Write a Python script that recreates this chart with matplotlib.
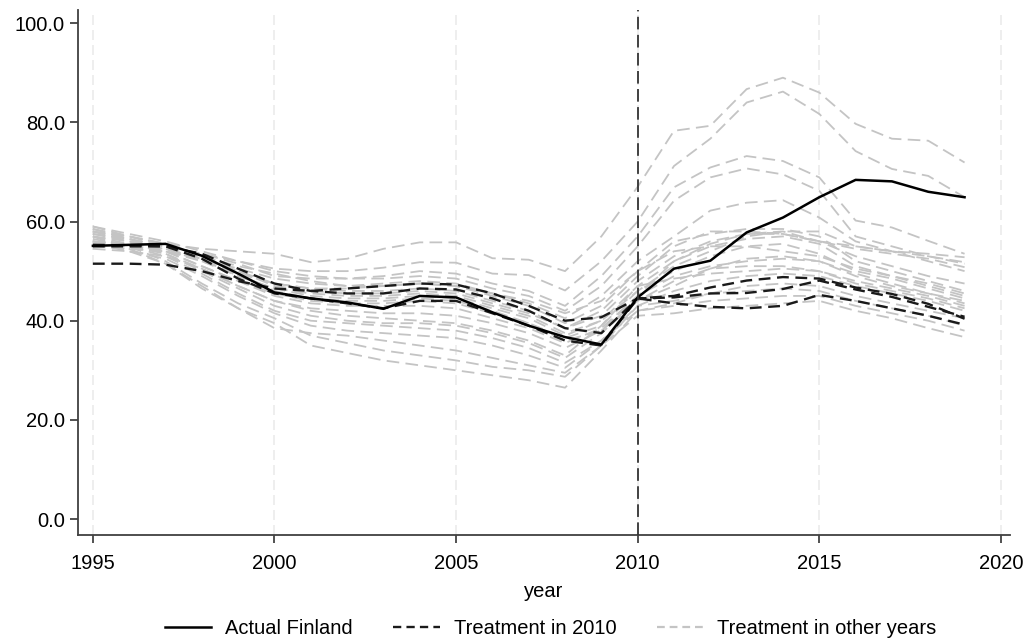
import numpy as np
import matplotlib
matplotlib.use("Agg")
import matplotlib.pyplot as plt
from matplotlib.lines import Line2D

plt.rcParams['font.family'] = ['Liberation Sans', 'DejaVu Sans']

years = list(range(1995, 2020))

# actual outcome for Finland
finland = [55.1, 55.3, 55.5, 53.1, 49.5, 45.7, 44.5, 43.7, 42.4, 45.0, 44.7, 41.7, 39.0, 36.7, 35.2,
           44.7, 50.5, 52.1, 57.8, 60.8, 64.9, 68.4, 68.1, 66.0, 64.9]

# synthetic controls, treatment in 2010
treat2010_a = [51.5, 51.5, 51.3, 50.0, 48.0, 46.5, 46.0, 46.5, 47.0, 47.5, 47.3, 45.5, 43.0, 40.0, 40.7,
               44.5, 45.0, 46.7, 48.1, 48.8, 48.5, 46.7, 45.4, 43.4, 40.4]
treat2010_b = [55.3, 55.2, 55.0, 53.5, 50.5, 47.5, 46.0, 45.5, 45.5, 46.5, 46.3, 44.5, 42.0, 38.5, 37.5,
               44.5, 44.7, 45.5, 45.6, 46.4, 48.1, 46.3, 44.8, 42.8, 40.8]
treat2010_c = [55.0, 55.0, 55.0, 52.5, 48.5, 45.5, 44.5, 43.5, 42.5, 44.0, 44.0, 41.5, 39.0, 36.0, 35.0,
               44.5, 43.5, 42.8, 42.5, 43.0, 45.2, 44.0, 42.5, 41.0, 39.2]

# synthetic controls, treatment in other years
other_01 = [58.0, 57.0, 55.5, 54.5, 54.0, 53.5, 51.8, 52.5, 54.5, 55.8, 55.8, 52.6, 52.3, 50.0, 57.0,
            67.0, 78.3, 79.3, 86.7, 89.0, 86.0, 79.7, 76.7, 76.3, 71.9]
other_02 = [57.5, 56.5, 55.0, 53.5, 52.0, 50.5, 50.0, 50.0, 50.7, 51.8, 51.7, 49.5, 49.2, 46.1, 52.0,
            60.0, 71.2, 76.7, 84.0, 86.2, 81.7, 74.2, 70.6, 69.2, 64.9]
other_03 = [56.0, 55.5, 55.0, 53.5, 51.5, 49.0, 48.5, 48.5, 49.0, 50.0, 49.5, 47.5, 46.0, 43.0, 49.0,
            57.0, 66.9, 70.9, 73.2, 72.2, 68.9, 60.2, 58.8, 56.1, 53.5]
other_04 = [59.0, 57.5, 56.0, 54.0, 52.0, 50.0, 49.0, 48.5, 48.5, 49.0, 48.5, 46.5, 45.0, 42.0, 47.0,
            55.0, 64.2, 68.9, 70.7, 69.5, 66.2, 57.0, 55.0, 53.0, 51.5]
other_05 = [58.5, 57.0, 55.0, 53.0, 51.0, 49.5, 48.0, 47.0, 47.5, 48.0, 47.5, 45.5, 43.5, 40.5, 45.0,
            52.0, 57.0, 62.2, 63.8, 64.3, 60.8, 56.0, 54.0, 52.0, 50.0]
other_06 = [57.0, 56.0, 54.5, 52.5, 50.5, 48.5, 47.5, 47.0, 47.0, 47.5, 47.0, 45.0, 43.0, 39.5, 43.0,
            50.0, 56.0, 57.5, 58.5, 58.5, 57.0, 52.0, 50.0, 48.0, 46.0]
other_07 = [56.5, 55.0, 54.0, 52.0, 49.5, 47.5, 46.5, 46.0, 46.0, 46.5, 46.0, 44.0, 42.0, 38.5, 41.0,
            48.0, 53.0, 56.0, 57.5, 58.0, 56.0, 53.0, 51.0, 49.0, 47.5]
other_08 = [55.5, 55.0, 54.5, 52.5, 49.0, 46.5, 45.5, 45.0, 45.0, 45.5, 45.0, 43.0, 41.0, 37.5, 40.0,
            47.0, 52.0, 55.0, 56.5, 57.0, 55.5, 51.0, 49.0, 47.0, 45.0]
other_09 = [59.0, 57.0, 55.5, 53.0, 49.5, 46.0, 44.5, 44.0, 44.0, 44.5, 44.0, 42.0, 39.5, 36.5, 39.0,
            46.0, 50.0, 53.0, 55.0, 55.5, 53.5, 50.0, 48.5, 46.5, 44.5]
other_10 = [58.0, 56.5, 54.0, 51.0, 48.0, 45.0, 43.5, 43.0, 43.0, 43.0, 42.5, 40.5, 38.5, 35.5, 38.5,
            45.0, 49.0, 51.0, 52.0, 52.5, 52.0, 49.0, 47.0, 45.5, 43.5]
other_11 = [57.5, 56.0, 53.5, 50.5, 47.0, 44.0, 42.5, 42.0, 41.5, 41.5, 41.0, 39.5, 37.5, 34.5, 38.0,
            44.0, 48.0, 50.5, 51.0, 51.0, 50.0, 47.5, 46.0, 44.5, 42.5]
other_12 = [58.5, 56.5, 54.5, 52.0, 49.0, 46.5, 45.0, 44.5, 44.5, 45.0, 44.5, 42.5, 40.5, 37.0, 40.0,
            46.0, 51.0, 54.0, 57.0, 58.0, 58.0, 55.0, 54.0, 53.5, 52.8]
other_13 = [56.0, 55.0, 53.0, 49.5, 45.5, 42.0, 40.0, 39.5, 39.0, 38.5, 38.0, 36.5, 34.5, 31.5, 36.0,
            42.0, 43.0, 44.0, 44.5, 45.0, 45.0, 43.0, 41.5, 40.0, 38.0]
other_14 = [57.0, 55.0, 52.0, 47.5, 43.5, 40.5, 37.0, 35.5, 34.0, 33.0, 32.0, 30.7, 30.0, 28.7, 35.0,
            41.0, 41.5, 42.5, 43.0, 43.5, 44.0, 42.0, 40.5, 38.5, 36.7]
other_15 = [57.0, 54.5, 51.5, 46.5, 42.5, 39.5, 35.0, 33.5, 32.0, 31.0, 30.0, 29.0, 28.0, 26.5, 34.0,
            42.0, 43.5, 45.5, 47.0, 47.5, 47.0, 45.0, 43.5, 42.0, 40.5]
other_16 = [55.0, 54.5, 54.0, 52.5, 50.0, 47.5, 46.5, 46.5, 47.0, 47.5, 47.0, 45.5, 44.0, 41.5, 44.0,
            50.0, 54.0, 55.0, 55.0, 54.0, 53.0, 50.5, 49.0, 47.5, 45.5]
other_17 = [54.5, 54.0, 53.0, 50.5, 47.0, 44.0, 42.0, 41.0, 40.5, 40.0, 39.5, 38.0, 36.0, 33.0, 39.0,
            47.0, 48.5, 49.5, 50.0, 50.5, 50.0, 48.0, 46.5, 45.0, 43.0]
other_18 = [55.5, 54.0, 52.5, 49.0, 45.0, 41.5, 39.0, 38.0, 37.5, 37.0, 36.5, 35.0, 33.0, 30.5, 36.0,
            43.0, 46.0, 48.0, 49.0, 49.5, 49.0, 47.0, 45.5, 44.0, 42.0]
other_19 = [57.0, 55.5, 54.0, 51.0, 48.0, 45.5, 44.0, 43.5, 43.5, 44.0, 43.5, 41.5, 39.5, 36.0, 38.0,
            45.0, 52.0, 55.5, 57.5, 57.5, 56.0, 55.0, 54.0, 53.0, 51.8]
other_20 = [58.0, 56.0, 55.0, 53.0, 50.0, 47.0, 46.0, 45.5, 45.5, 46.0, 45.5, 43.5, 41.5, 38.5, 42.0,
            49.0, 55.0, 58.0, 58.0, 57.5, 56.0, 54.5, 53.5, 52.5, 50.8]
other_21 = [56.0, 55.0, 53.5, 50.0, 46.5, 43.0, 41.0, 40.0, 39.5, 39.5, 39.0, 37.5, 35.5, 32.5, 37.5,
            44.0, 47.0, 50.5, 52.5, 53.0, 52.0, 49.5, 47.5, 45.5, 44.0]
other_22 = [56.0, 54.0, 51.5, 47.0, 42.5, 38.5, 37.5, 37.0, 36.0, 35.0, 34.0, 32.5, 31.0, 29.5, 35.0,
            43.0, 44.0, 45.5, 46.0, 46.5, 46.0, 44.0, 42.5, 41.0, 39.0]

other_years = [other_01, other_02, other_03, other_04, other_05, other_06, other_07, other_08,
               other_09, other_10, other_11, other_12, other_13, other_14, other_15, other_16,
               other_17, other_18, other_19, other_20, other_21, other_22]
treat2010 = [treat2010_a, treat2010_b, treat2010_c]

gray = '#c4c4c4'

fig = plt.figure(figsize=(10.29, 6.41), dpi=100)
ax = fig.add_axes([0.0758, 0.1654, 0.9057, 0.8186])

# vertical grid
for gx in range(1995, 2021, 5):
    ax.axvline(gx, color='#ebebeb', lw=1.2, dashes=(6, 3), zorder=0)

for series in other_years:
    ax.plot(years, series, color=gray, lw=1.3, dashes=(7, 3.5), zorder=1)

for series in treat2010:
    ax.plot(years, series, color='#1a1a1a', lw=1.7, dashes=(5, 2.8), zorder=2)

ax.plot(years, finland, color='#000000', lw=1.8, zorder=3)

ax.axvline(2010, color='#333333', lw=1.3, dashes=(7, 3), zorder=4)

ax.set_xlim(1994.59, 2020.25)
ax.set_ylim(-3.2, 102.6)
ax.set_xticks(range(1995, 2021, 5))
ax.set_yticks(np.arange(0, 101, 20))
ax.set_yticklabels([f'{v:.1f}' for v in np.arange(0, 101, 20)])
ax.tick_params(axis='both', labelsize=14.5, colors='#333333', labelcolor='black',
               length=6, width=1.2, direction='out')
ax.tick_params(axis='x', pad=8)
ax.set_xlabel('year', fontsize=14.5, labelpad=6)

for side in ['top', 'right']:
    ax.spines[side].set_visible(False)
for side in ['left', 'bottom']:
    ax.spines[side].set_color('#404040')
    ax.spines[side].set_linewidth(1.3)

handles = [
    Line2D([], [], color='black', lw=1.8),
    Line2D([], [], color='#1a1a1a', lw=1.7, dashes=(3.5, 2.2)),
    Line2D([], [], color=gray, lw=1.6, dashes=(3.5, 2.2)),
]
labels = ['Actual Finland', 'Treatment in 2010', 'Treatment in other years']
fig.legend(handles, labels, loc='lower center', bbox_to_anchor=(0.535, -0.024), ncol=3,
           frameon=False, fontsize=14.5, handlelength=2.3, columnspacing=2.0, handletextpad=0.7)

fig.savefig('out.png', dpi=100)
